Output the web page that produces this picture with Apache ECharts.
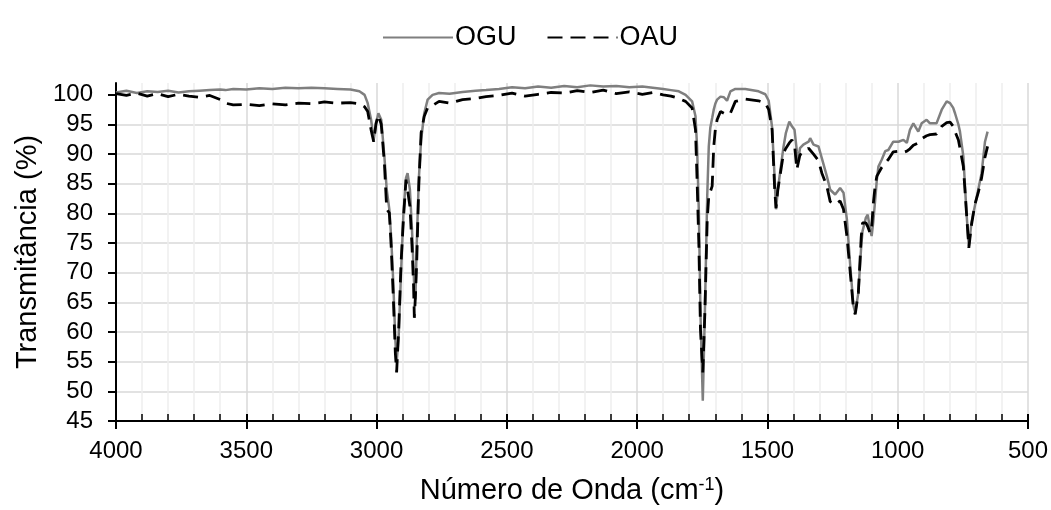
<!DOCTYPE html>
<html>
<head>
<meta charset="utf-8">
<script src="https://cdn.jsdelivr.net/npm/echarts@6/dist/echarts.min.js"></script>
<style>html,body{margin:0;padding:0;background:#fff}#c{width:1051px;height:510px}</style>
</head>
<body>
<div id="c"></div>
<script>
const wavenumber = [4000,3960,3920,3880,3840,3800,3760,3720,3680,3640,3600,3580,3550,3500,3450,3400,3350,3300,3250,3200,3150,3100,3066,3046,3034,3021,3011,3002,2993,2982,2970,2961,2951,2944,2936,2928,2923,2915,2906,2897,2887,2881,2872,2864,2858,2855,2851,2846,2838,2829,2817,2804,2785,2760,2720,2670,2620,2580,2530,2480,2430,2380,2330,2280,2230,2180,2130,2080,2030,1980,1940,1900,1870,1840,1814,1789,1776,1770,1763,1757,1748,1740,1731,1725,1719,1712,1706,1700,1693,1680,1667,1655,1642,1623,1585,1534,1508,1495,1482,1472,1467,1460,1450,1438,1429,1416,1406,1396,1387,1381,1375,1362,1342,1336,1323,1304,1291,1272,1259,1240,1221,1208,1195,1182,1170,1163,1151,1140,1135,1122,1115,1106,1100,1094,1087,1080,1074,1061,1048,1036,1017,997,978,965,953,940,921,908,889,876,851,831,812,799,787,780,767,761,748,736,727,717,704,691,678,665,655];
const ogu = [100.4,100.7,100.3,100.6,100.5,100.7,100.4,100.6,100.7,100.8,100.9,100.8,101.0,100.9,101.1,101.0,101.2,101.1,101.2,101.1,101.0,100.9,100.6,100.0,98.6,95.8,92.4,95.2,96.9,95.8,89.6,84.0,80.7,76.0,68.5,58.8,54.9,59.5,70.0,80.0,86.0,86.8,84.0,77.3,70.5,67.0,65.5,74.5,85.7,92.4,96.9,99.2,100.0,100.3,100.2,100.5,100.7,100.8,101.0,101.3,101.1,101.4,101.2,101.5,101.3,101.6,101.4,101.5,101.3,101.4,101.2,101.0,100.8,100.6,100.0,98.9,96.4,91.3,80.1,63.3,48.4,63.3,82.9,91.3,94.5,96.1,97.5,98.5,99.2,99.7,99.6,99.0,100.6,101.0,101.0,100.6,100.1,99.0,94.5,85.7,80.7,84.0,87.4,91.3,93.6,95.5,94.7,94.1,90.5,89.1,91.0,91.6,92.1,92.7,91.6,91.3,89.3,86.3,84.0,83.2,84.3,83.5,79.0,71.1,64.5,63.3,66.6,74.5,77.0,79.3,79.8,77.3,76.2,78.5,82.0,85.7,87.9,89.1,90.5,90.7,92.1,92.1,92.4,91.9,94.1,95.2,93.8,95.2,95.8,95.2,95.2,97.5,98.9,98.6,97.8,96.9,95.0,93.8,89.6,80.1,74.5,78.4,81.2,84.0,86.8,92.1,93.8];
const oau = [100.2,99.9,100.3,99.8,100.2,99.7,100.1,99.8,99.6,99.9,99.2,98.6,98.3,98.4,98.2,98.5,98.3,98.6,98.5,98.8,98.6,98.7,98.5,98.0,97.2,94.1,92.1,95.2,96.6,95.0,88.5,80.7,80.1,74.5,66.1,56.5,53.2,60.5,71.7,79.0,85.7,85.7,81.2,74.5,67.8,62.4,66.0,71.7,84.6,93.6,96.4,97.8,98.2,98.9,98.6,99.2,99.4,99.7,99.9,100.3,99.8,100.1,100.4,100.3,100.7,100.4,100.8,100.2,100.5,100.1,100.4,100.0,99.8,99.4,98.9,97.8,94.1,85.7,74.5,60.5,53.2,63.3,79.0,82.9,83.2,84.6,91.3,94.1,95.8,97.2,96.9,97.2,96.9,98.9,99.3,99.0,98.6,97.5,94.1,84.0,80.9,84.0,86.8,90.2,91.0,91.9,92.4,91.6,87.4,87.2,89.9,90.2,91.0,90.7,90.0,88.9,86.8,84.6,82.0,81.5,82.1,80.7,76.2,70.0,64.0,63.0,66.6,76.0,78.4,78.4,77.8,76.7,77.5,81.5,84.5,86.3,86.5,87.8,88.5,89.1,90.4,90.5,90.3,90.5,90.9,91.5,91.9,92.6,93.1,93.3,93.4,94.7,95.3,95.4,94.7,93.8,92.4,91.0,87.9,80.1,74.2,78.0,81.5,83.5,86.0,89.5,91.3];
const yTicks = [45,50,55,60,65,70,75,80,85,90,95,100];
const seriesNames = ['OGU', 'OAU'];

const font = "'Liberation Sans', Arial, sans-serif";
const chart = echarts.init(document.getElementById('c'), null, {renderer: 'canvas'});
const pairs = vals => wavenumber.map((w, i) => [w, vals[i]]);
const plain = v => String(v);

chart.setOption({
  animation: false,
  backgroundColor: '#ffffff',
  textStyle: {fontFamily: font, color: '#000'},
  legend: {
    top: 19, left: 377,
    itemWidth: 70, itemHeight: 14, itemGap: 30,
    itemStyle: {opacity: 0},
    textStyle: {fontFamily: font, fontSize: 27, color: '#000', padding: [0,0,0,-3]},
    data: seriesNames
  },
  grid: {left: 116, right: 21, top: 83, bottom: 88, containLabel: false},
  xAxis: [{
    type: 'value', min: 500, max: 4000, interval: 500, inverse: true,
    name: 'Número de Onda (cm{sup|-1})', nameLocation: 'middle', nameGap: 55,
    nameTextStyle: {fontFamily: font, fontSize: 29, color: '#000',
      rich: {sup: {fontFamily: font, fontSize: 18, verticalAlign: 'top', color: '#000'}}},
    axisLine: {show: true, onZero: false, lineStyle: {color: '#000', width: 2}},
    axisTick: {show: true, inside: true, length: 7, lineStyle: {color: '#000', width: 2}},
    minorTick: {show: true, splitNumber: 5, length: 7, lineStyle: {color: '#000', width: 1.5}},
    axisLabel: {fontFamily: font, fontSize: 24, color: '#000', margin: 18, formatter: plain},
    splitLine: {show: true, lineStyle: {color: '#d9d9d9', width: 1.5}},
    minorSplitLine: {show: true, lineStyle: {color: '#eeeeee', width: 1.5}}
  }, {
    type: 'value', min: 500, max: 4000, interval: 500, inverse: true, position: 'bottom',
    axisLine: {show: false}, axisLabel: {show: false}, splitLine: {show: false},
    axisTick: {show: true, inside: false, length: 8, lineStyle: {color: '#000', width: 2}}
  }],
  yAxis: {
    type: 'value', min: 45, max: 102, interval: 5,
    name: 'Transmitância (%)', nameLocation: 'middle', nameGap: 70, nameRotate: 90,
    nameTextStyle: {fontFamily: font, fontSize: 29, color: '#000'},
    axisLine: {show: true, onZero: false, lineStyle: {color: '#000', width: 2}},
    axisTick: {show: true, inside: false, length: 8, customValues: yTicks, lineStyle: {color: '#000', width: 2}},
    axisLabel: {fontFamily: font, fontSize: 24, color: '#000', margin: 23, customValues: yTicks, formatter: plain},
    splitLine: {show: true, showMaxLine: false, showMinLine: false, lineStyle: {color: '#d9d9d9', width: 1.5}}
  },
  series: [{
    name: seriesNames[0], type: 'line', xAxisIndex: 0, symbol: 'none', showSymbol: false,
    data: pairs(ogu), z: 3,
    lineStyle: {color: '#7f7f7f', width: 2.5, type: 'solid'},
    itemStyle: {color: '#7f7f7f'}
  }, {
    name: seriesNames[1], type: 'line', xAxisIndex: 0, symbol: 'none', showSymbol: false,
    data: pairs(oau), z: 4,
    lineStyle: {color: '#000000', width: 2.8, type: [15, 8]},
    itemStyle: {color: '#000000'}
  }]
});
</script>
</body>
</html>
